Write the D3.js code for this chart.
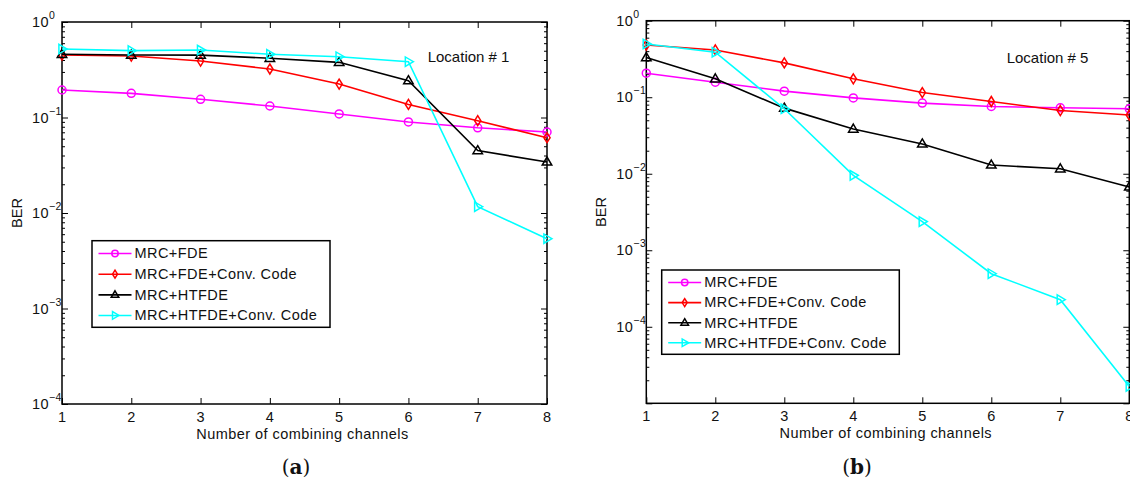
<!DOCTYPE html>
<html>
<head>
<meta charset="utf-8">
<script src="https://cdn.jsdelivr.net/npm/d3@7"></script>
<style>
  html, body { margin: 0; padding: 0; background: #fff; }
  svg { display: block; font-family: "Liberation Sans", Arial, sans-serif; }
</style>
</head>
<body>
<svg id="chart" width="1130" height="486"></svg>
<script>
// Number of combining channels (x axis)
const channels = [1, 2, 3, 4, 5, 6, 7, 8];
const seriesNames = ["MRC+FDE", "MRC+FDE+Conv. Code", "MRC+HTFDE", "MRC+HTFDE+Conv. Code"];
const seriesColors = ["#ff00ff", "#ff0000", "#000000", "#00ffff"];
const seriesMarkers = ["circle", "diamond", "triangleUp", "triangleRight"];

// BER, Location # 1
const loc1MrcFde       = [0.194, 0.179, 0.155, 0.132, 0.109, 0.0898, 0.078, 0.0705];
const loc1MrcFdeConv   = [0.451, 0.440, 0.390, 0.322, 0.224, 0.137, 0.0926, 0.0615];
const loc1MrcHtfde     = [0.459, 0.451, 0.450, 0.417, 0.378, 0.243, 0.045, 0.0342];
const loc1MrcHtfdeConv = [0.521, 0.501, 0.509, 0.459, 0.433, 0.384, 0.01164, 0.00538];

// BER, Location # 5
const loc5MrcFde       = [0.206, 0.157, 0.120, 0.098, 0.0838, 0.0756, 0.0728, 0.0706];
const loc5MrcFdeConv   = [0.482, 0.415, 0.281, 0.174, 0.115, 0.0879, 0.067, 0.0585];
const loc5MrcHtfde     = [0.330, 0.174, 0.072, 0.0384, 0.0245, 0.013, 0.0116, 0.00673];
const loc5MrcHtfdeConv = [0.497, 0.387, 0.0706, 0.00953, 0.00237, 0.000494, 0.000226, 0.0000166];

// Tick labels
const xTickLabels = ["1", "2", "3", "4", "5", "6", "7", "8"];
const yTickExpLeft = [0, -1, -2, -3, -4];
const yTickExpRight = [0, -1, -2, -3, -4];

const svg = d3.select("#chart");
const LS = 0.45; // letter spacing for sans labels

const panels = [
  {
    box: { left: 62, right: 547, top: 22, bottom: 404 },
    yDomain: [1e-4, 1],
    yExp: yTickExpLeft,
    series: [loc1MrcFde, loc1MrcFdeConv, loc1MrcHtfde, loc1MrcHtfdeConv],
    location: "Location # 1",
    locationPos: [427.7, 58],
    legend: { x: 92, y: 240.7, w: 238, h: 86.6 },
    caption: "a",
    captionX: 296
  },
  {
    box: { left: 646.3, right: 1129.3, top: 20.7, bottom: 403.3 },
    yDomain: [1e-5, 1],
    yExp: yTickExpRight,
    series: [loc5MrcFde, loc5MrcFdeConv, loc5MrcHtfde, loc5MrcHtfdeConv],
    location: "Location # 5",
    locationPos: [1006.7, 59],
    legend: { x: 661.7, y: 270, w: 237.6, h: 84.3 },
    caption: "b",
    captionX: 857
  }
];

function markerPath(type, size) {
  const s = size;
  switch (type) {
    case "diamond":
      return `M0,${-s}L${s * 0.62},0L0,${s}L${-s * 0.62},0Z`;
    case "triangleUp":
      return `M0,${-s}L${s * 0.95},${s * 0.62}L${-s * 0.95},${s * 0.62}Z`;
    case "triangleRight":
      return `M${s},0L${-s * 0.62},${s * 0.95}L${-s * 0.62},${-s * 0.95}Z`;
    default:
      return null;
  }
}

function drawMarker(g, type, color, cx, cy, size) {
  if (type === "circle") {
    g.append("circle").attr("cx", cx).attr("cy", cy).attr("r", size * 0.8)
      .attr("fill", "none").attr("stroke", color).attr("stroke-width", 1.5);
  } else {
    g.append("path").attr("d", markerPath(type, size))
      .attr("transform", `translate(${cx},${cy})`)
      .attr("fill", "none").attr("stroke", color).attr("stroke-width", 1.5);
  }
}

panels.forEach(p => {
  const b = p.box;
  const x = d3.scaleLinear().domain([1, 8]).range([b.left, b.right]);
  const y = d3.scaleLog().domain(p.yDomain).range([b.bottom, b.top]);
  const g = svg.append("g");

  // minor log ticks in every decade
  const minor = [];
  const lo = Math.round(Math.log10(p.yDomain[0]));
  for (let e = lo; e < 0; e++) {
    for (let m = 2; m <= 9; m++) minor.push(m * Math.pow(10, e));
  }
  const majors = d3.range(lo, 1).map(e => Math.pow(10, e));

  const tickStyle = sel => {
    sel.select(".domain").remove();
    sel.selectAll("line").attr("stroke", "#000").attr("stroke-width", 1);
    sel.selectAll("text").remove();
  };

  // left & right axes (ticks point inward)
  g.append("g").attr("transform", `translate(${b.left},0)`)
    .call(d3.axisLeft(y).tickValues(majors).tickSize(-6).tickFormat("")).call(tickStyle);
  g.append("g").attr("transform", `translate(${b.left},0)`)
    .call(d3.axisLeft(y).tickValues(minor).tickSize(-3).tickFormat("")).call(tickStyle);
  g.append("g").attr("transform", `translate(${b.right},0)`)
    .call(d3.axisRight(y).tickValues(majors).tickSize(-6).tickFormat("")).call(tickStyle);
  g.append("g").attr("transform", `translate(${b.right},0)`)
    .call(d3.axisRight(y).tickValues(minor).tickSize(-3).tickFormat("")).call(tickStyle);
  // bottom & top axes
  g.append("g").attr("transform", `translate(0,${b.bottom})`)
    .call(d3.axisBottom(x).tickValues(channels).tickSize(-6).tickFormat("")).call(tickStyle);
  g.append("g").attr("transform", `translate(0,${b.top})`)
    .call(d3.axisTop(x).tickValues(channels).tickSize(-6).tickFormat("")).call(tickStyle);

  // axes box
  g.append("rect").attr("x", b.left).attr("y", b.top)
    .attr("width", b.right - b.left).attr("height", b.bottom - b.top)
    .attr("fill", "none").attr("stroke", "#000").attr("stroke-width", 1.5);

  // x tick labels
  g.selectAll(".xl").data(channels).enter().append("text")
    .attr("x", d => x(d)).attr("y", b.bottom + 14)
    .attr("text-anchor", "middle").attr("dominant-baseline", "middle")
    .attr("font-size", 14.5).attr("fill", "#111")
    .text((d, i) => xTickLabels[i]);

  // y tick labels: 10^e
  p.yExp.forEach(e => {
    const t = g.append("text")
      .attr("x", b.left - 30).attr("y", y(Math.pow(10, e)) + 1)
      .attr("dominant-baseline", "middle")
      .attr("font-size", 14.5).attr("fill", "#111").attr("letter-spacing", LS);
    t.append("tspan").text("10");
    t.append("tspan").attr("dy", -7).attr("font-size", 10.5).text(e === 0 ? "0" : "\u2212" + (-e));
  });

  // axis titles
  g.append("text")
    .attr("x", (b.left + b.right) / 2 - 2).attr("y", b.bottom + 31)
    .attr("text-anchor", "middle").attr("dominant-baseline", "middle")
    .attr("font-size", 14.5).attr("fill", "#111").attr("letter-spacing", LS)
    .text("Number of combining channels");
  g.append("text")
    .attr("transform", `translate(${b.left - 44},${(b.top + b.bottom) / 2}) rotate(-90)`)
    .attr("text-anchor", "middle").attr("dominant-baseline", "middle")
    .attr("font-size", 14.5).attr("fill", "#111")
    .text("BER");

  // location annotation
  g.append("text")
    .attr("x", p.locationPos[0]).attr("y", p.locationPos[1])
    .attr("dominant-baseline", "middle")
    .attr("font-size", 15).attr("fill", "#111")
    .text(p.location);

  // series
  const line = d3.line().x((d, i) => x(channels[i])).y(d => y(d));
  p.series.forEach((vals, si) => {
    const col = seriesColors[si];
    g.append("path").datum(vals).attr("d", line)
      .attr("fill", "none").attr("stroke", col).attr("stroke-width", 1.6);
    const mg = g.append("g");
    vals.forEach((v, i) => drawMarker(mg, seriesMarkers[si], col, x(channels[i]), y(v), 5));
  });

  // legend
  const L = p.legend;
  const lg = g.append("g");
  lg.append("rect").attr("x", L.x).attr("y", L.y).attr("width", L.w).attr("height", L.h)
    .attr("fill", "#fff").attr("stroke", "#000").attr("stroke-width", 1.5);
  const step = (L.h - 4) / 4;
  seriesNames.forEach((name, si) => {
    const cy = L.y + 2 + step * (si + 0.5) + 0.5;
    lg.append("line").attr("x1", L.x + 6.5).attr("x2", L.x + 39.5)
      .attr("y1", cy).attr("y2", cy).attr("stroke", seriesColors[si]).attr("stroke-width", 1.6);
    drawMarker(lg, seriesMarkers[si], seriesColors[si], L.x + 23, cy, 4);
    lg.append("text").attr("x", L.x + 42.5).attr("y", cy + 1)
      .attr("dominant-baseline", "middle").attr("font-size", 14.5).attr("fill", "#111")
      .attr("letter-spacing", LS)
      .text(name);
  });

  // sub-figure caption
  const cap = svg.append("text")
    .attr("x", p.captionX).attr("y", 468)
    .attr("text-anchor", "middle").attr("dominant-baseline", "middle")
    .attr("font-family", "'DejaVu Serif', 'Liberation Serif', serif")
    .attr("font-size", 20).attr("fill", "#111");
  cap.append("tspan").text("(");
  cap.append("tspan").attr("font-weight", "bold").text(p.caption);
  cap.append("tspan").text(")");
});
</script>
</body>
</html>
